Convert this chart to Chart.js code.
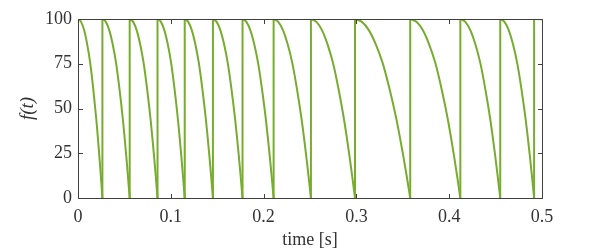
<!DOCTYPE html>
<html>
<head>
<meta charset="utf-8">
<script src="https://cdn.jsdelivr.net/npm/chart.js@4.4.1/dist/chart.umd.min.js"></script>
<style>
html,body{margin:0;padding:0;background:#fff;}
#wrap{width:599px;height:252px;position:relative;}
</style>
</head>
<body>
<div id="wrap"><canvas id="c"></canvas></div>
<script>
// Reset times (s) where f(t) drops to 0 and jumps back to 100
const resetTimes = [0.0263, 0.0557, 0.0857, 0.115, 0.1454, 0.1773, 0.2108, 0.251, 0.2985, 0.358, 0.412, 0.455, 0.4915];
// Shape of one cycle: fraction of cycle vs. f value
const cycleFractions = [0, 0.125, 0.25, 0.375, 0.5, 0.625, 0.75, 0.8125, 0.875, 0.9375, 1];
const cycleValues    = [100, 98.4, 93.8, 86, 75.5, 61, 44, 34, 23.4, 12, 0];
// Value at the end of the window (start of the last, partial cycle)
const endTime = 0.5;
const endValue = 99.8;
const xTickLabels = ['0', '0.1', '0.2', '0.3', '0.4', '0.5'];
const yTickLabels = ['0', '25', '50', '75', '100'];

const green = '#77AC30';
const datasets = [];
let start = 0;
const jumps = [];
for (const r of resetTimes) {
  datasets.push({
    data: cycleFractions.map((f, i) => ({x: start + f * (r - start), y: cycleValues[i]})),
    borderColor: green, borderWidth: 2, pointRadius: 0,
    cubicInterpolationMode: 'monotone', tension: 0.4, fill: false
  });
  jumps.push({x: r, y: 0}, {x: r, y: 100}, {x: r, y: null});
  start = r;
}
datasets.push({
  data: [{x: start, y: 100}, {x: endTime, y: endValue}],
  borderColor: green, borderWidth: 2, pointRadius: 0, fill: false
});
datasets.push({
  data: jumps, borderColor: green, borderWidth: 2, pointRadius: 0,
  spanGaps: false, fill: false, tension: 0
});

const frame = {
  id: 'frame',
  afterDraw(chart) {
    const {ctx, chartArea: a, scales} = chart;
    ctx.save();
    ctx.strokeStyle = '#404040';
    ctx.lineWidth = 1;
    ctx.beginPath();
    const L = Math.round(a.left) + 0.5, R = Math.round(a.right) + 0.5;
    const T = Math.round(a.top) + 0.5, B = Math.round(a.bottom) + 0.5;
    ctx.rect(L, T, R - L, B - T);
    const tl = 4.5;
    scales.x.ticks.forEach(t => {
      const px = Math.round(scales.x.getPixelForValue(t.value)) + 0.5;
      ctx.moveTo(px, B); ctx.lineTo(px, B - tl);
      ctx.moveTo(px, T); ctx.lineTo(px, T + tl);
    });
    scales.y.ticks.forEach(t => {
      const py = Math.round(scales.y.getPixelForValue(t.value)) + 0.5;
      ctx.moveTo(L, py); ctx.lineTo(L + tl, py);
      ctx.moveTo(R, py); ctx.lineTo(R - tl, py);
    });
    ctx.stroke();
    ctx.restore();
  }
};

const font = {family: 'Liberation Serif', size: 18};
new Chart(document.getElementById('c'), {
  type: 'line',
  data: {datasets},
  options: {
    responsive: true,
    maintainAspectRatio: false,
    animation: false,
    events: [],
    layout: {padding: {left: 0, right: 57, top: 19, bottom: 0}},
    plugins: {legend: {display: false}, tooltip: {enabled: false}},
    scales: {
      x: {
        type: 'linear', min: 0, max: 0.5,
        afterBuildTicks(s) { s.ticks = xTickLabels.map(v => ({value: parseFloat(v)})); },
        afterFit(s) { s.height = 54; },
        grid: {display: false, drawTicks: false},
        border: {display: false},
        ticks: {
          color: '#333', font, padding: 8, maxRotation: 0,
          callback: (v) => xTickLabels.find(l => Math.abs(parseFloat(l) - v) < 1e-9)
        },
        title: {display: true, text: 'time [s]', color: '#333', font, padding: {top: 0, bottom: 1}}
      },
      y: {
        min: 0, max: 100,
        afterBuildTicks(s) { s.ticks = yTickLabels.map(v => ({value: parseFloat(v)})); },
        afterFit(s) { s.width = 78; },
        grid: {display: false, drawTicks: false},
        border: {display: false},
        ticks: {
          color: '#333', font, padding: 6,
          callback: (v) => yTickLabels.find(l => parseFloat(l) === v)
        },
        title: {display: true, text: 'f(t)', color: '#333', font: {family: 'Liberation Serif', size: 19, style: 'italic'}, padding: {top: 17, bottom: 0}}
      }
    }
  },
  plugins: [frame]
});
</script>
</body>
</html>
